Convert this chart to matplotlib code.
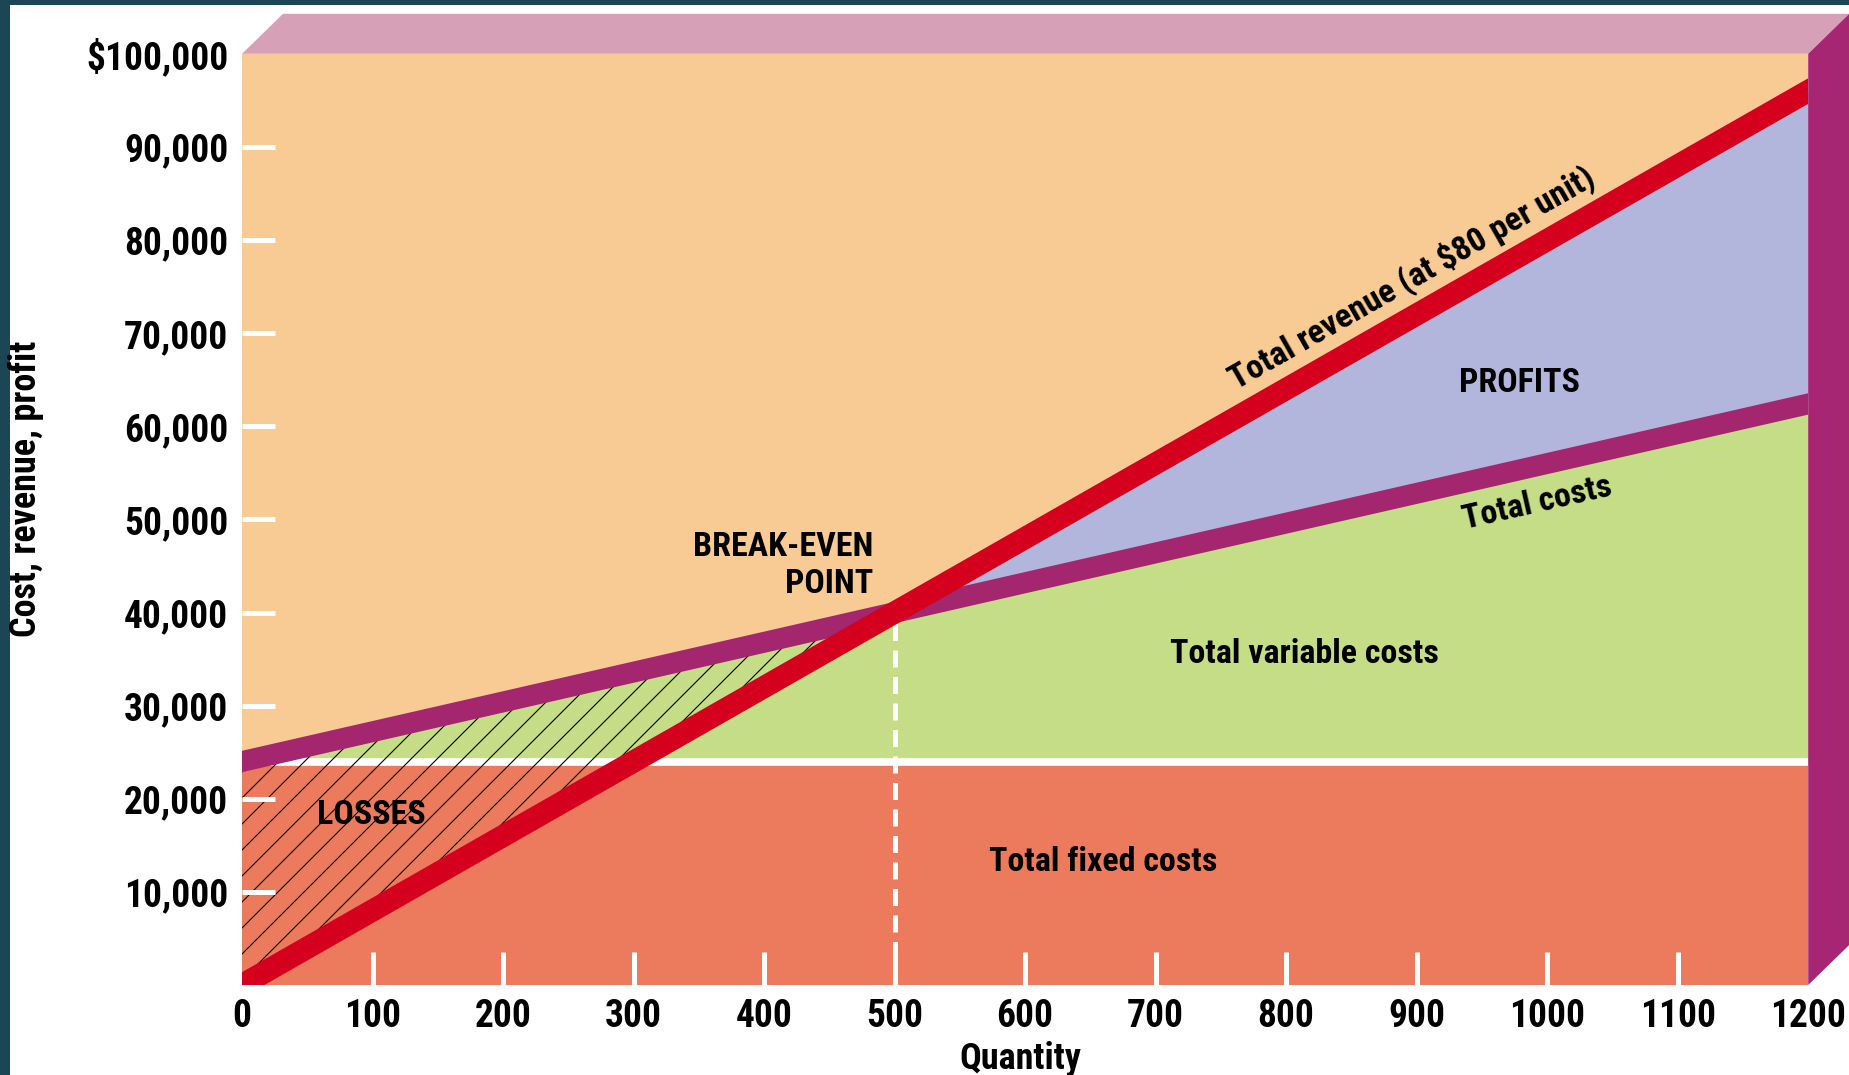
"""
plot.py - break-even chart: fixed/variable costs, revenue, losses and profits.
"""

import os

import matplotlib
matplotlib.use("Agg")
import matplotlib.pyplot as plt
from matplotlib import font_manager as fm
from matplotlib.patches import Polygon, Rectangle
import numpy as np


def pick_narrow_font():
    """Find a bold condensed face if one is installed (Futura Condensed look)."""
    prefs = ["liberationsansnarrow-bold", "robotocondensed-bold",
             "opensans-condbold", "opensans_condensed-bold", "opensanscondensed-bold",
             "notosans-condensedbold", "dejavusanscondensed-bold",
             "notosansdisplay-condensedbold", "lato-heavy", "liberationsans-bold"]
    files = {os.path.basename(f.fname).lower().rsplit(".", 1)[0]: f.fname
             for f in fm.fontManager.ttflist}
    for p in prefs:
        if p in files:
            return files[p]
    for name, path in files.items():
        if ("narrow" in name or "cond" in name) and "bold" in name:
            return path
    return fm.findfont(fm.FontProperties(family="DejaVu Sans", weight="bold"))


# Hatch spacing follows the dpi (about dpi/3 px for "/"), so the figure is
# rendered at 78 dpi; every size below is written for 100 dpi and scaled by S.
DPI = 78
S = 100 / DPI

FONT_FILE = pick_narrow_font()
fm.fontManager.addfont(FONT_FILE)
FONT_NAME = fm.FontProperties(fname=FONT_FILE).get_name()
plt.rcParams["font.family"] = [FONT_NAME, "DejaVu Sans"]
plt.rcParams["font.weight"] = "bold"
plt.rcParams["hatch.linewidth"] = 0.8 * S

# Data
QUANTITY = [0, 1200]
PRICE = 80            # $ per unit
FIXED_COST = 24000    # $
UNIT_VAR_COST = 32    # $ per unit

X_TICKS = [0, 100, 200, 300, 400, 500, 600, 700, 800, 900, 1000, 1100, 1200]
X_LABELS = ["0", "100", "200", "300", "400", "500", "600", "700", "800",
            "900", "1000", "1100", "1200"]
Y_TICKS = [10000, 20000, 30000, 40000, 50000, 60000, 70000, 80000, 90000, 100000]
Y_LABELS = ["10,000", "20,000", "30,000", "40,000", "50,000", "60,000",
            "70,000", "80,000", "90,000", "$100,000"]

# Colours
PEACH = "#F8CB94"
PINK_TOP = "#D6A0B6"
MAGENTA_SIDE = "#A72673"
RED = "#D4001E"
TC_COLOR = "#A3266F"
GREEN = "#C6DD88"
FIXED_COLOR = "#EC7A5C"
PROFIT_COLOR = "#B2B6DC"
TEAL = "#1C4656"

FS_TICK = 27 * S
FS_NOTE = 24.5 * S
FS_AXIS = 26 * S

q = np.linspace(QUANTITY[0], QUANTITY[1], 241)
revenue = PRICE * q
total_cost = FIXED_COST + UNIT_VAR_COST * q
q_be = FIXED_COST / (PRICE - UNIT_VAR_COST)
rev_be = PRICE * q_be

W, H = 1849, 1075
fig = plt.figure(figsize=((W + 0.2) / DPI, (H + 0.2) / DPI), dpi=DPI,
                 facecolor="white")
ax = fig.add_axes([242 / W, 90 / H, 1566 / W, 931 / H])
ax.set_facecolor(PEACH)
ax.set_xlim(QUANTITY[0], QUANTITY[1])
ax.set_ylim(0, 100000)
for s in ax.spines.values():
    s.set_visible(False)

# Areas
ax.fill_between(q, 0, FIXED_COST, color=FIXED_COLOR, lw=0)
ax.fill_between(q, FIXED_COST, total_cost, color=GREEN, lw=0)
ax.fill_between(q, total_cost, revenue, where=revenue >= total_cost,
                color=PROFIT_COLOR, lw=0, interpolate=True)
ax.axhline(FIXED_COST, color="white", lw=5.5 * S, zorder=1.2)
ax.fill_between(q, revenue, total_cost, where=revenue <= total_cost,
                facecolor="none", edgecolor="black", hatch="/", lw=0,
                interpolate=True, zorder=1.3)

# Break-even marker
ax.plot([q_be, q_be], [0, rev_be], color="white", lw=3.6 * S,
        dashes=(3.4, 1.9), zorder=1.8)

# Lines
ax.plot(q, total_cost, color=TC_COLOR, lw=15 * S, solid_capstyle="projecting",
        zorder=2)
ax.plot(q, revenue, color=RED, lw=16 * S, solid_capstyle="projecting",
        zorder=2.1)

# Ticks
ax.set_xticks(X_TICKS)
ax.set_xticklabels(X_LABELS)
ax.set_yticks(Y_TICKS)
ax.set_yticklabels(Y_LABELS)
ax.tick_params(axis="both", direction="in", length=24 * S, width=3.6 * S,
               color="white", labelcolor="black", labelsize=FS_TICK)
ax.tick_params(axis="x", pad=9 * S)
ax.tick_params(axis="y", pad=10 * S)
xt = ax.xaxis.get_major_ticks()
xt[0].tick1line.set_visible(False)
xt[-1].tick1line.set_visible(False)
ax.yaxis.get_major_ticks()[-1].tick1line.set_visible(False)


def line_angle(y0, y1):
    p0 = ax.transData.transform((QUANTITY[0], y0))
    p1 = ax.transData.transform((QUANTITY[1], y1))
    return np.degrees(np.arctan2(p1[1] - p0[1], p1[0] - p0[0]))


rev_angle = line_angle(revenue[0], revenue[-1])
tc_angle = line_angle(total_cost[0], total_cost[-1])

# Annotations
ax.text(896, PRICE * 896 + 4300, "Total revenue (at $80 per unit)",
        rotation=rev_angle, rotation_mode="anchor", ha="center", va="center",
        fontsize=FS_NOTE)
ax.text(992, FIXED_COST + UNIT_VAR_COST * 992 - 4000, "Total costs",
        rotation=tc_angle, rotation_mode="anchor", ha="center", va="center",
        fontsize=FS_NOTE)
ax.text(979, 64700, "PROFITS", ha="center", va="center", fontsize=FS_NOTE)
ax.text(814, 35600, "Total variable costs", ha="center", va="center",
        fontsize=FS_NOTE)
ax.text(484, 45100, "BREAK-EVEN\nPOINT", ha="right", va="center",
        multialignment="right", linespacing=1.2, fontsize=FS_NOTE)
ax.text(99, 18300, "LOSSES", ha="center", va="center", fontsize=FS_NOTE)
ax.text(660, 13200, "Total fixed costs", ha="center", va="center",
        fontsize=FS_NOTE)

fig.text(26 / W, 1 - 489 / H, "Cost, revenue, profit", rotation=90,
         ha="center", va="center", fontsize=FS_AXIS)
fig.text(1020 / W, 1 - 1059 / H, "Quantity", ha="center", va="center",
         fontsize=FS_AXIS)

# 3D frame
pos = ax.get_position()
ddx, ddy = 41 / W, 40 / H
top = Polygon([(pos.x0, pos.y1), (pos.x0 + ddx, pos.y1 + ddy),
               (pos.x1 + ddx, pos.y1 + ddy), (pos.x1, pos.y1)],
              closed=True, transform=fig.transFigure, color=PINK_TOP, lw=0)
side = Polygon([(pos.x1, pos.y1), (pos.x1 + ddx, pos.y1 + ddy),
                (pos.x1 + ddx, pos.y0 + ddy), (pos.x1, pos.y0)],
               closed=True, transform=fig.transFigure, color=MAGENTA_SIDE, lw=0)
fig.add_artist(top)
fig.add_artist(side)

# Slide border
fig.add_artist(Rectangle((0, 0), 10 / W, 1, transform=fig.transFigure,
                         color=TEAL, lw=0))
fig.add_artist(Rectangle((0, 1 - 5 / H), 1, 5 / H, transform=fig.transFigure,
                         color=TEAL, lw=0))

fig.savefig("out.png", dpi=DPI, facecolor="white")
plt.close(fig)
